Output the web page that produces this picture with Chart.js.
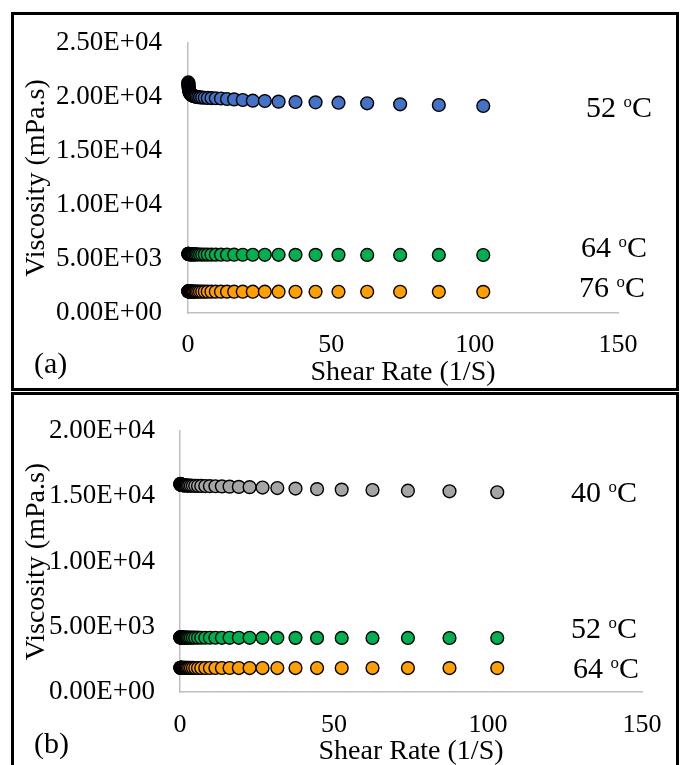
<!DOCTYPE html>
<html>
<head>
<meta charset="utf-8">
<script src="https://cdn.jsdelivr.net/npm/chart.js@4.4.1/dist/chart.umd.min.js"></script>
<style>
  html, body { margin: 0; padding: 0; background: #fff; }
  #page { position: relative; width: 681px; height: 765px; overflow: hidden;
          font-family: 'Liberation Serif', 'Times New Roman', serif; color: #000; }
  .frame { position: absolute; border: 3px solid #000; box-sizing: border-box; }
  .wrap { position: absolute; left: 0; width: 681px; height: 390px; }
  .lbl { position: absolute; font-size: 30px; line-height: 30px; white-space: nowrap; }
  .lbl .deg { font-size: 0.56em; position: relative; top: -0.6em; }
</style>
</head>
<body>
<div id="page">
  <div class="frame" style="left:11px; top:12px; width:668px; height:379px;"></div>
  <div class="frame" style="left:11px; top:392px; width:668px; height:400px;"></div>

  <div class="wrap" style="top:0;"><canvas id="chart-a" width="681" height="390"></canvas></div>
  <div class="wrap" style="top:390px;"><canvas id="chart-b" width="681" height="390"></canvas></div>

  <div class="lbl" style="right:29px; top:92px;">52 <span class="deg">o</span>C</div>
  <div class="lbl" style="right:34px; top:232px;">64 <span class="deg">o</span>C</div>
  <div class="lbl" style="right:36px; top:272px;">76 <span class="deg">o</span>C</div>
  <div class="lbl" style="left:34px; top:348px;">(a)</div>

  <div class="lbl" style="right:44px; top:477px;">40 <span class="deg">o</span>C</div>
  <div class="lbl" style="right:44px; top:613px;">52 <span class="deg">o</span>C</div>
  <div class="lbl" style="right:42px; top:653px;">64 <span class="deg">o</span>C</div>
  <div class="lbl" style="left:34px; top:728px;">(b)</div>
</div>

<script>
  // shear rate steps (1/S), same for every run
  var shearRate = [0.11, 0.13, 0.15, 0.18, 0.21, 0.25, 0.3, 0.35, 0.41, 0.48,
    0.57, 0.67, 0.79, 0.93, 1.1, 1.3, 1.54, 1.82, 2.15, 2.55,
    3.0, 3.55, 4.2, 4.95, 5.85, 6.9, 8.2, 9.7, 11.5, 13.6,
    16.1, 19.1, 22.6, 26.8, 31.6, 37.5, 44.5, 52.5, 62.5, 74, 87.5, 103];

  // (a) viscosity, mPa.s
  var visA52 = [21350, 21250, 21150, 21050, 20950, 20850, 20760, 20670, 20590, 20510,
    20440, 20380, 20320, 20270, 20220, 20180, 20140, 20100, 20070, 20040,
    20010, 19990, 19970, 19950, 19930, 19910, 19900, 19885, 19860, 19815,
    19780, 19720, 19660, 19630, 19570, 19535, 19505, 19470, 19415, 19320, 19260, 19170];
  var visA64 = [5480, 5475, 5470, 5468, 5465, 5460, 5458, 5455, 5450, 5448,
    5445, 5442, 5440, 5437, 5435, 5432, 5430, 5428, 5425, 5422,
    5420, 5418, 5415, 5412, 5410, 5408, 5405, 5402, 5400, 5398,
    5396, 5394, 5392, 5390, 5388, 5386, 5384, 5382, 5380, 5377, 5374, 5370];
  var visA76 = [2010, 2008, 2006, 2005, 2004, 2002, 2000, 1999, 1998, 1996,
    1995, 1994, 1992, 1991, 1990, 1989, 1988, 1987, 1986, 1985,
    1984, 1983, 1982, 1981, 1980, 1979, 1978, 1977, 1976, 1975,
    1974, 1973, 1972, 1971, 1970, 1969, 1968, 1966, 1964, 1962, 1960, 1958];

  // (b) viscosity, mPa.s
  var visB40 = [15960, 15950, 15940, 15930, 15920, 15910, 15900, 15890, 15885, 15880,
    15875, 15870, 15865, 15860, 15855, 15850, 15845, 15840, 15835, 15830,
    15825, 15820, 15815, 15810, 15805, 15800, 15795, 15790, 15780, 15770,
    15750, 15730, 15710, 15680, 15640, 15600, 15560, 15520, 15490, 15440, 15390, 15320];
  var visB52 = [4190, 4188, 4186, 4185, 4184, 4182, 4181, 4180, 4179, 4178,
    4177, 4176, 4175, 4174, 4173, 4172, 4171, 4170, 4169, 4168,
    4167, 4166, 4165, 4164, 4163, 4162, 4161, 4160, 4159, 4158,
    4157, 4156, 4155, 4154, 4153, 4152, 4150, 4148, 4146, 4144, 4142, 4140];
  var visB64 = [1860, 1858, 1857, 1856, 1855, 1854, 1853, 1852, 1851, 1850,
    1849, 1848, 1848, 1847, 1847, 1846, 1846, 1845, 1845, 1844,
    1844, 1843, 1843, 1842, 1842, 1841, 1841, 1840, 1840, 1839,
    1839, 1838, 1838, 1837, 1837, 1836, 1836, 1835, 1835, 1834, 1834, 1833];

  var xTicks = [0, 50, 100, 150];
  var yTicksA = ['0.00E+00', '5.00E+03', '1.00E+04', '1.50E+04', '2.00E+04', '2.50E+04'];
  var yTicksB = ['0.00E+00', '5.00E+03', '1.00E+04', '1.50E+04', '2.00E+04'];

  var FONT = "'Liberation Serif', 'Times New Roman', serif";
  Chart.defaults.color = '#000';
  Chart.defaults.font.family = FONT;

  function pts(ys) {
    return shearRate.map(function (x, i) { return { x: x, y: ys[i] }; });
  }

  function series(ys, fill) {
    return {
      data: pts(ys),
      backgroundColor: fill,
      borderColor: '#000',
      borderWidth: 1.4,
      pointRadius: 6.4,
      pointHoverRadius: 6.4,
      showLine: false,
      clip: false,
    };
  }

  function makeChart(id, sets, yLabels, lay) {
    var yMax = (yLabels.length - 1) * 5000;
    return new Chart(document.getElementById(id), {
      type: 'scatter',
      data: { datasets: sets },
      options: {
        responsive: false,
        animation: false,
        devicePixelRatio: 1,
        layout: { padding: { top: lay.top, right: lay.right, bottom: 0, left: 0 } },
        plugins: { legend: { display: false }, tooltip: { enabled: false } },
        scales: {
          x: {
            type: 'linear',
            min: xTicks[0],
            max: xTicks[xTicks.length - 1],
            afterFit: function (s) { s.height = lay.xh; },
            afterBuildTicks: function (s) {
              s.ticks = xTicks.map(function (v) { return { value: v }; });
            },
            grid: { display: false, drawTicks: false },
            border: { display: true, color: '#bfbfbf', width: 1.5 },
            ticks: { autoSkip: false, maxRotation: 0, padding: lay.xpad,
                     font: { size: 26 }, color: '#000' },
            title: { display: true, text: 'Shear Rate (1/S)', color: '#000',
                     font: { size: 28 }, padding: { top: 0, bottom: lay.tpad } },
          },
          y: {
            type: 'linear',
            min: 0,
            max: yMax,
            afterFit: function (s) { s.width = lay.yw; },
            grid: { display: false, drawTicks: false },
            border: { display: true, color: '#bfbfbf', width: 1.5 },
            ticks: {
              stepSize: 5000,
              padding: lay.ypad,
              font: { size: 27 },
              color: '#000',
              callback: function (v) { return yLabels[Math.round(v / 5000)]; },
            },
            title: { display: true, text: 'Viscosity (mPa.s)', color: '#000',
                     font: { size: 28 }, padding: { top: 20, bottom: 0 } },
          },
        },
      },
    });
  }

  makeChart('chart-a', [
    series(visA52, '#4472C4'),
    series(visA64, '#00B050'),
    series(visA76, '#FFA000'),
  ], yTicksA, { top: 43, right: 63, xh: 77, yw: 188, xpad: 17, ypad: 26, tpad: 0.7 });

  makeChart('chart-b', [
    series(visB40, '#A5A5A5'),
    series(visB52, '#00B050'),
    series(visB64, '#FFA000'),
  ], yTicksB, { top: 33, right: 39, xh: 88, yw: 180, xpad: 18, ypad: 25, tpad: 11.2 });
</script>
</body>
</html>
